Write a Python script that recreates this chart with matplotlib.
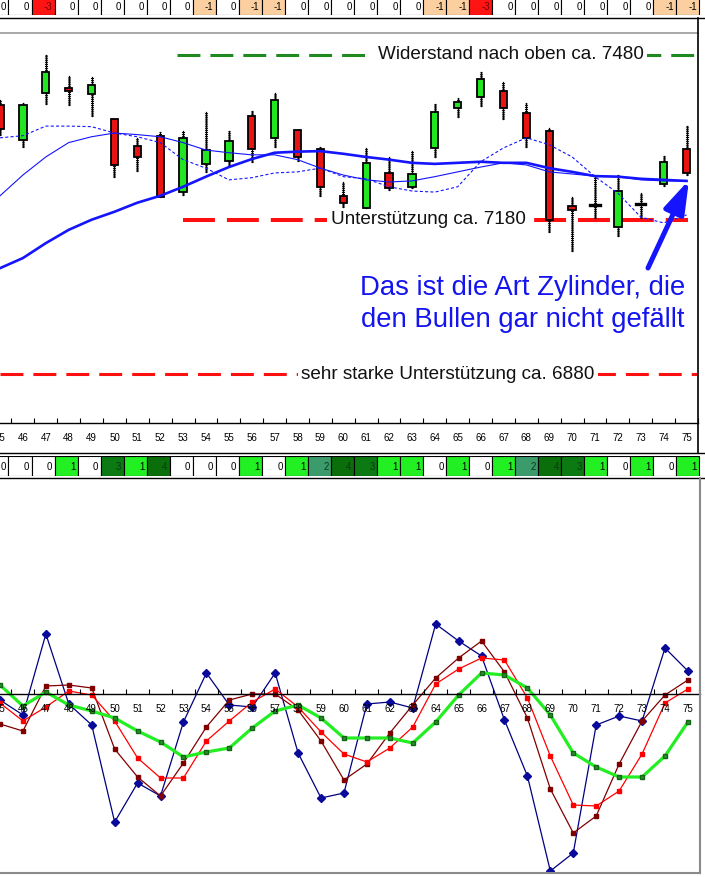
import matplotlib
matplotlib.use('Agg')
import matplotlib.pyplot as plt
from matplotlib.patches import Rectangle
from matplotlib.lines import Line2D
import numpy as np

plt.rcParams['font.family'] = ['Liberation Sans', 'DejaVu Sans']
plt.rcParams['lines.scale_dashes'] = False

# ---- data ----
cols = list(range(45, 76))

top_signal = [0, 0, -3, 0, 0, 0, 0, 0, 0, -1, 0, -1, -1, 0, 0, 0,
              0, 0, 0, -1, -1, -3, 0, 0, 0, 0, 0, 0, 0, -1, -1]
bottom_signal = [0, 0, 0, 1, 0, 3, 1, 4, 0, 0, 0, 1, 0, 1, 2, 4,
                 3, 1, 1, 0, 1, 0, 1, 2, 4, 3, 1, 0, 1, 0, 1]

opens = [7386, 7320, 7409, 7418, 7407, 7360, 7309, 7328, 7222, 7275, 7281, 7365, 7324, 7339, 7303, 7215,
         7192, 7258, 7232, 7305, 7380, 7401, 7412, 7371, 7337, 7196, 7198, 7157, 7200, 7237, 7303]
highs = [7395, 7390, 7480, 7441, 7439, 7360, 7324, 7335, 7337, 7373, 7337, 7375, 7409, 7339, 7307, 7241,
         7305, 7288, 7299, 7388, 7399, 7448, 7429, 7390, 7343, 7213, 7251, 7254, 7220, 7290, 7346]
lows = [7330, 7307, 7388, 7386, 7365, 7251, 7262, 7213, 7217, 7260, 7273, 7279, 7307, 7281, 7215, 7194,
        7192, 7226, 7230, 7288, 7363, 7384, 7360, 7307, 7147, 7111, 7173, 7140, 7173, 7234, 7254]
closes = [7340, 7386, 7448, 7412, 7424, 7273, 7288, 7213, 7324, 7301, 7318, 7303, 7395, 7288, 7232, 7202,
          7277, 7230, 7256, 7373, 7392, 7435, 7380, 7324, 7170, 7188, 7198, 7224, 7200, 7279, 7258]

ma_long = [7079, 7098, 7126, 7151, 7170, 7185, 7202, 7215, 7232, 7251, 7269, 7284, 7296, 7298, 7299, 7294,
           7288, 7283, 7277, 7275, 7277, 7279, 7277, 7277, 7267, 7260, 7252, 7251, 7247, 7245, 7243]
ma_mid = [7215, 7254, 7288, 7315, 7326, 7333, 7330, 7326, 7315, 7301, 7296, 7292, 7292, 7283, 7267, 7254,
          7245, 7241, 7243, 7251, 7260, 7269, 7277, 7273, 7260, 7256, 7252, 7251, 7245, 7243, 7243]
ma_short = [7324, 7328, 7346, 7346, 7345, 7333, 7326, 7315, 7283, 7267, 7245, 7249, 7258, 7260, 7267, 7251,
            7247, 7232, 7224, 7222, 7232, 7279, 7305, 7324, 7311, 7288, 7251, 7220, 7175, 7164, 7179]

resistance = 7480
support = 7170
strong_support = 6880

osc_blue = [-6, -21, 60, -10, -31, -128, -89, -102, -28, 21, -11, -13, 21, -59, -104, -99,
            -10, -8, -14, 70, 53, 38, -26, -82, -177, -159, -31, -22, -27, 46, 23]
osc_maroon = [-30, -37, 8, 9, 6, -55, -83, -102, -69, -33, -6, 0, 0, -16, -47, -86,
              -70, -39, -11, 16, 36, 53, 22, -24, -95, -139, -122, -70, -27, -1, 14]
osc_red = [-9, -27, -13, 3, -1, -27, -64, -84, -84, -47, -27, -8, 5, -13, -38, -60,
           -68, -54, -33, 10, 25, 36, 34, -4, -62, -111, -112, -97, -60, -9, 5]
osc_lime = [9, -12, 2, -11, -17, -24, -37, -48, -63, -58, -54, -34, -17, -11, -24, -44,
            -44, -44, -49, -28, -1, 21, 19, 6, -21, -59, -73, -83, -83, -62, -28]

# ---- layout helpers (pixels) ----
W, H = 705, 877
PX = 23.03
X0 = 46 - 20 / PX


def fig_rect(x0, y0, x1, y1):
    return [x0 / W, 1 - y1 / H, (x1 - x0) / W, (y1 - y0) / H]


def fig_line(x0, y0, x1, y1, color='black', lw=1.0):
    fig.add_artist(Line2D([x0 / W, x1 / W], [1 - y0 / H, 1 - y1 / H],
                          transform=fig.transFigure, color=color, lw=lw))


fig = plt.figure(figsize=(W / 100, H / 100), dpi=100)
fig.patch.set_facecolor('white')

# ---- top signal strip ----
top_colors = {0: 'white', -1: '#fbcfa0', -3: '#ff1414'}
ax_t = fig.add_axes(fig_rect(0, -3, 705, 15))
ax_t.bar(cols, 1, width=1, bottom=0, color=[top_colors[v] for v in top_signal],
         edgecolor='black', linewidth=0.8)
for c, v in zip(cols, top_signal):
    ax_t.text(c + 0.4, 0.42, str(v), ha='right', va='center', fontsize=7,
              color='#700000' if v == -3 else 'black')
ax_t.set_xlim(X0, X0 + 705 / PX)
ax_t.set_ylim(0, 1)
ax_t.axis('off')
fig_line(0, 18, 705, 18)

# ---- main candle chart ----
ax = fig.add_axes(fig_rect(0, 33, 698, 423))
ax.set_xlim(X0, X0 + 698 / PX)
ax.set_ylim(6788, 7521)

for c, o, hi, lo, cl in zip(cols, opens, highs, lows, closes):
    ax.plot([c, c], [lo, hi], color='black', lw=0.9, zorder=3)
    ax.plot([c, c], [lo, hi], color='black', lw=2.2, ls=(0, (0.7, 0.8)), zorder=3)
    if o == cl:
        ax.plot([c - 0.2, c + 0.2], [o, o], color='black', lw=2.4, zorder=3.5)
    else:
        col = '#22e622' if cl > o else '#e81414'
        ax.add_patch(Rectangle((c - 0.16, min(o, cl)), 0.32, abs(cl - o),
                               facecolor=col, edgecolor='black', lw=1.3, zorder=3.5))

ax.plot(cols, ma_long, color='#1414ff', lw=1.9, zorder=4)
ax.plot(cols, ma_mid, color='#1414ff', lw=0.8, zorder=4)
ax.plot(cols, ma_short, color='#1414ff', lw=0.8, ls=(0, (2.2, 1.6)), zorder=4)

yx = ax.get_yaxis_transform()
ax.plot([177 / 698, 697 / 698], [resistance] * 2, transform=yx, color='#1f8a1f',
        lw=2.2, ls=(0, (16.5, 7.2)), zorder=2)
ax.plot([183 / 698, 688 / 698], [support] * 2, transform=yx, color='#ff1010',
        lw=2.9, ls=(0, (23, 8.6)), zorder=2)
ax.plot([0, 697 / 698], [strong_support] * 2, transform=yx, color='#ff1010',
        lw=2.2, ls=(0, (16.5, 7.2)), zorder=2)

box = dict(facecolor='white', edgecolor='none', pad=2.5)
ax.text(511 / 698, resistance, 'Widerstand nach oben ca. 7480', transform=yx,
        ha='center', va='center', fontsize=13.6, color='#111111', bbox=box, zorder=2.5)
ax.text(428 / 698, support, 'Unterstützung ca. 7180', transform=yx,
        ha='center', va='center', fontsize=13.6, color='#111111', bbox=box, zorder=2.5)
ax.text(448 / 698, strong_support, 'sehr starke Unterstützung ca. 6880', transform=yx,
        ha='center', va='center', fontsize=13.6, color='#111111', bbox=box, zorder=2.5)

ax.text(523 / 698, (423 - 304) / 390, 'Das ist die Art Zylinder, die\nden Bullen gar nicht gefällt',
        transform=ax.transAxes, ha='center', va='center', fontsize=19.8, color='#1414ee',
        linespacing=1.32, zorder=6)
ax.annotate('', xy=(689 / 698, (423 - 180) / 390), xytext=(648 / 698, (423 - 268) / 390),
            xycoords='axes fraction',
            arrowprops=dict(arrowstyle='-|>,head_length=1.0,head_width=0.32', lw=3.6,
                            color='#1414ff', mutation_scale=20, shrinkA=0, shrinkB=0),
            zorder=6)

for s in ['top', 'left', 'right']:
    ax.spines[s].set_visible(False)
ax.spines['bottom'].set_linewidth(1)
ax.set_yticks([])
ax.set_xticks(cols)
ax.set_xticklabels([str(c) for c in cols], fontsize=7)
ax.set_xticks(np.arange(45.5, 76, 1), minor=True)
ax.tick_params(axis='x', which='major', length=0, pad=7.5)
ax.tick_params(axis='x', which='minor', length=3.6, direction='in', width=0.8)

fig_line(0, 33, 698, 33, color='#9a9a9a', lw=1.2)
fig_line(698, 18, 698, 453, color='black', lw=1.2)

# ---- bottom signal strip ----
bot_colors = {0: 'white', 1: '#22f022', 2: '#3c9b6b', 3: '#0b7a12', 4: '#0a6e0a'}
ax_b = fig.add_axes(fig_rect(0, 456, 705, 476))
ax_b.bar(cols, 1, width=1, bottom=0, color=[bot_colors[v] for v in bottom_signal],
         edgecolor='black', linewidth=0.8)
for c, v in zip(cols, bottom_signal):
    ax_b.text(c + 0.4, 0.45, str(v), ha='right', va='center', fontsize=7,
              color='black' if v < 2 else '#0a3a12')
ax_b.set_xlim(X0, X0 + 705 / PX)
ax_b.set_ylim(0, 1)
ax_b.axis('off')
fig_line(0, 453, 705, 453)
fig_line(0, 478, 705, 478)

# ---- lower oscillator panel ----
ax2 = fig.add_axes(fig_rect(0, 479, 700, 873))
ax2.set_xlim(X0, X0 + 700 / PX)
ax2.set_ylim(-179, 215)
ax2.plot(cols, osc_blue, color='#000080', lw=0.9, marker='D', ms=4,
         mfc='#0a0a9a', mec='#0a0a9a', zorder=2)
ax2.plot(cols, osc_maroon, color='#800000', lw=0.9, marker='s', ms=3,
         mfc='#800000', mec='#800000', zorder=2)
ax2.plot(cols, osc_red, color='#ff0000', lw=0.9, marker='s', ms=3,
         mfc='#ff0000', mec='#ff0000', zorder=2)
ax2.plot(cols, osc_lime, color='#22ee22', lw=2.3, marker='s', ms=3.2,
         mfc='#2e8b2e', mec='#116611', zorder=2)

for s in ['top', 'left', 'right']:
    ax2.spines[s].set_visible(False)
ax2.spines['bottom'].set_position(('data', 0))
ax2.spines['bottom'].set_linewidth(1)
ax2.set_axisbelow(False)
ax2.set_yticks([])
ax2.set_xticks(cols)
ax2.set_xticklabels([str(c) for c in cols], fontsize=7)
ax2.set_xticks(np.arange(45.5, 76, 1), minor=True)
ax2.tick_params(axis='x', which='major', length=0, pad=7.5)
ax2.tick_params(axis='x', which='minor', length=3.6, direction='in', width=0.8)

fig_line(0, 873, 700, 873, color='#8a8a8a', lw=1.5)
fig_line(700, 478, 700, 873, color='#8a8a8a', lw=1.5)

fig.savefig('out.png', dpi=100, facecolor='white')
